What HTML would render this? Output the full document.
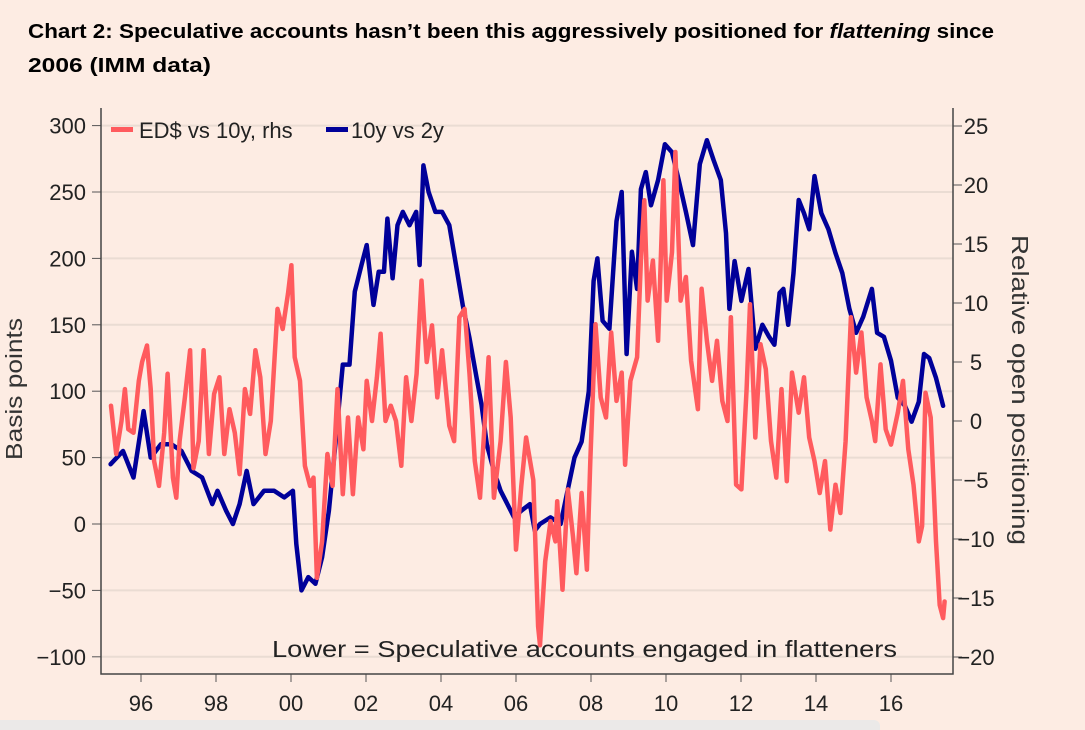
<!DOCTYPE html>
<html><head><meta charset="utf-8"><style>
html,body{margin:0;padding:0;background:#fdece3;}
svg{display:block;font-family:"Liberation Sans",sans-serif;}
</style></head><body>
<svg id="chart" width="1085" height="730" viewBox="0 0 1085 730">
<rect x="0" y="0" width="1085" height="730" fill="#fdece3"/>
<text x="28" y="38" font-size="20" font-weight="bold" fill="#000" textLength="966" lengthAdjust="spacingAndGlyphs">Chart 2: Speculative accounts hasn’t been this aggressively positioned for <tspan font-style="italic">flattening</tspan> since</text>
<text x="28" y="72" font-size="20" font-weight="bold" fill="#000" textLength="183" lengthAdjust="spacingAndGlyphs">2006 (IMM data)</text>
<g id="grid"></g>
<g id="axes"></g>
<g id="series"></g>
<text x="272" y="657" font-size="23" fill="#222" textLength="625" lengthAdjust="spacingAndGlyphs">Lower = Speculative accounts engaged in flatteners</text>
<text transform="translate(22,389) rotate(-90)" text-anchor="middle" font-size="23" fill="#333" textLength="142" lengthAdjust="spacingAndGlyphs">Basis points</text>
<text transform="translate(1012,390) rotate(90)" text-anchor="middle" font-size="23" fill="#333" textLength="310" lengthAdjust="spacingAndGlyphs">Relative open positioning</text>
<g>
<rect x="111" y="127" width="22" height="5" fill="#ff5b5e"/>
<text x="139" y="138" font-size="22" fill="#222">ED$ vs 10y, rhs</text>
<rect x="326" y="127" width="22" height="5" fill="#000099"/>
<text x="351" y="138" font-size="22" fill="#222">10y vs 2y</text>
</g>
<rect x="-10" y="720" width="890" height="20" rx="6" fill="#ebe9e8"/>
</svg>
<script>
const leftTicks=[300,250,200,150,100,50,0,-50,-100];
const rightTicks=[25,20,15,10,5,0,-5,-10,-15,-20];
const xTicks=[1996,1998,2000,2002,2004,2006,2008,2010,2012,2014,2016];
const xTickLabels=["96","98","00","02","04","06","08","10","12","14","16"];
const blueDates=[1995.19,1995.52,1995.80,1996.07,1996.26,1996.53,1996.81,1997.08,1997.35,1997.63,1997.90,1998.04,1998.27,1998.45,1998.63,1998.82,1999.00,1999.28,1999.55,1999.82,2000.05,2000.14,2000.28,2000.46,2000.65,2000.83,2001.01,2001.15,2001.38,2001.56,2001.70,2001.88,2002.02,2002.20,2002.34,2002.48,2002.57,2002.71,2002.84,2002.98,2003.16,2003.34,2003.43,2003.53,2003.67,2003.85,2004.03,2004.22,2004.40,2004.58,2004.76,2004.95,2005.08,2005.22,2005.41,2005.59,2005.77,2005.95,2006.14,2006.37,2006.50,2006.64,2006.92,2007.19,2007.56,2007.75,2007.94,2008.07,2008.17,2008.31,2008.49,2008.68,2008.82,2008.95,2009.09,2009.23,2009.33,2009.46,2009.60,2009.79,2009.97,2010.16,2010.34,2010.53,2010.72,2010.90,2011.09,2011.27,2011.46,2011.60,2011.69,2011.83,2012.01,2012.20,2012.38,2012.57,2012.75,2012.89,2013.03,2013.13,2013.26,2013.40,2013.54,2013.68,2013.82,2013.96,2014.14,2014.33,2014.52,2014.70,2014.89,2015.07,2015.26,2015.49,2015.63,2015.81,2016.00,2016.18,2016.37,2016.55,2016.74,2016.88,2017.02,2017.20,2017.39];
const blueValues=[45,55,35,85,50,60,60,55,40,35,15,25,10,0,15,40,15,25,25,20,25,-15,-50,-40,-45,-25,10,50,120,120,175,195,210,165,190,190,230,185,225,235,225,235,195,270,250,235,235,225,195,165,140,110,90,60,40,25,15,5,10,15,-5,0,5,0,50,62,100,183,200,153,147,228,250,128,205,177,252,265,240,259,286,280,259,235,210,271,289,274,259,219,162,198,168,192,132,150,141,135,174,177,150,189,244,234,222,262,234,222,204,189,162,144,156,177,144,141,123,95,89,77,92,128,125,110,89];
const redDates=[1995.20,1995.34,1995.48,1995.57,1995.66,1995.80,1995.94,1996.03,1996.16,1996.26,1996.35,1996.48,1996.62,1996.71,1996.85,1996.94,1997.03,1997.17,1997.31,1997.40,1997.54,1997.67,1997.81,1997.95,1998.09,1998.22,1998.36,1998.50,1998.63,1998.77,1998.91,1999.05,1999.18,1999.32,1999.46,1999.64,1999.78,1999.92,2000.01,2000.10,2000.24,2000.37,2000.51,2000.60,2000.69,2000.83,2000.97,2001.11,2001.24,2001.38,2001.52,2001.65,2001.79,2001.93,2002.02,2002.16,2002.29,2002.39,2002.52,2002.66,2002.80,2002.94,2003.07,2003.21,2003.35,2003.48,2003.62,2003.76,2003.90,2004.03,2004.22,2004.35,2004.49,2004.63,2004.76,2004.90,2005.04,2005.18,2005.27,2005.41,2005.59,2005.73,2005.86,2006.00,2006.14,2006.27,2006.46,2006.59,2006.64,2006.78,2006.92,2007.05,2007.10,2007.24,2007.38,2007.52,2007.61,2007.75,2007.89,2007.98,2008.12,2008.26,2008.40,2008.54,2008.68,2008.82,2008.91,2009.05,2009.23,2009.33,2009.42,2009.51,2009.65,2009.79,2009.93,2010.02,2010.16,2010.25,2010.39,2010.53,2010.67,2010.85,2010.95,2011.09,2011.23,2011.36,2011.50,2011.64,2011.73,2011.87,2012.01,2012.15,2012.24,2012.38,2012.52,2012.66,2012.80,2012.94,2013.08,2013.22,2013.36,2013.54,2013.68,2013.82,2013.96,2014.10,2014.24,2014.38,2014.52,2014.65,2014.79,2014.93,2015.07,2015.21,2015.35,2015.49,2015.58,2015.72,2015.86,2016.00,2016.18,2016.32,2016.46,2016.60,2016.74,2016.83,2016.92,2017.06,2017.20,2017.30,2017.39,2017.43];
const redValues=[1.3,-2.8,0,2.7,-0.7,-1,3.4,5,6.4,2.7,-3.4,-5.5,-1,4,-4.8,-6.5,-1.7,2,6,-4,-1.7,6,-2.8,2.3,3.7,-2.8,1,-1,-4.5,2.7,0.6,6,3.7,-2.8,0,9.5,7.8,10.8,13.2,5.4,3.4,-3.8,-5.5,-4.8,-13.3,-10.2,-2.8,-5.5,2.7,-6.2,0.3,-6.2,0.3,-2.4,3.4,0,3.7,7.4,0,1.3,0,-3.8,3.7,0,4,11.9,5,8.1,2,6,-0.4,-1.7,8.8,9.5,4,-3.4,-6.5,0.6,5.4,-6.5,-1.7,5,0.3,-10.9,-5.5,-1.4,-5,-17.4,-19,-11.9,-8.5,-10.2,-6.8,-14.3,-5.8,-9.8,-12.9,-6.1,-12.6,-3.4,8.2,2,0.3,7.5,1.7,4.1,-3.7,3.4,5.4,13.6,18.7,10.2,13.6,6.8,20.4,10.2,14.3,22.8,10.2,12.2,5.1,1,11.2,6.8,3.4,6.8,1.7,0,8.8,-5.4,-5.8,2.7,9.9,-1.4,6.5,4.4,-1.7,-4.8,2.7,-5.1,4.1,0.7,3.7,-1.4,-3.4,-6.1,-3.4,-9.2,-5.4,-7.8,-1.7,8.8,4.1,7.5,2,0,-1.7,4.8,-0.7,-2,0.7,3.4,-2.4,-5.4,-10.2,-8.9,2.4,0.3,-10.2,-15.6,-16.7,-15.3];

const NS='http://www.w3.org/2000/svg';
const PL=101,PR=953,PT=108,PB=674;
function xScale(t){return 141+(t-1996)*37.5;}
function yLeft(v){return 524-v*1.328;}
function yRight(v){return 421-v*11.8;}
const grid=document.getElementById('grid'),axes=document.getElementById('axes'),series=document.getElementById('series');
function mk(tag,attrs,parent){const e=document.createElementNS(NS,tag);for(const k in attrs)e.setAttribute(k,attrs[k]);parent.appendChild(e);return e;}
leftTicks.forEach(v=>{
  const y=yLeft(v);
  const g=mk('line',{x1:PL,x2:PR,y1:y,y2:y,stroke:'#eadcd3','stroke-width':2},grid);
  
  
  const t=mk('line',{x1:PL-9,x2:PL,y1:y,y2:y,stroke:'#555','stroke-width':1},axes);
  
  
  const l=mk('text',{x:86,y:y+8,'text-anchor':'end','font-size':22,fill:'#222'},axes);
  l.textContent=String(v).replace('-','\u2212');
  
  
});
rightTicks.forEach(v=>{
  const y=yRight(v);
  const t=mk('line',{x1:PR,x2:PR+9,y1:y,y2:y,stroke:'#555','stroke-width':1},axes);
  
  
  const l=mk('text',{x:976,y:y+8,'text-anchor':'middle','font-size':22,fill:'#222'},axes);
  l.textContent=String(v).replace('-','\u2212');
  
  
});
xTicks.forEach((v,i)=>{
  const x=xScale(v);
  const t=mk('line',{x1:x,x2:x,y1:PB,y2:PB+8,stroke:'#555','stroke-width':1},axes);
  
  
  const l=mk('text',{x:x,y:711,'text-anchor':'middle','font-size':22,fill:'#222'},axes);
  l.textContent=xTickLabels[i];
  
  
});
const ax=mk('path',{d:`M${PL},${PT}V${PB}H${PR}V${PT}`,fill:'none',stroke:'#444','stroke-width':1.5},axes);


function line(dates,vals,ys,color,name){
  const d=dates.map((t,i)=>(i?'L':'M')+xScale(t).toFixed(1)+','+ys(vals[i]).toFixed(1)).join('');
  const p=mk('path',{d:d,fill:'none',stroke:color,'stroke-width':4.5,'stroke-linejoin':'round','stroke-linecap':'round'},series);
  
  
}
line(blueDates,blueValues,yLeft,'#000099','line-10y-vs-2y');
line(redDates,redValues,yRight,'#ff5b5e','line-ed-vs-10y');
</script>
</body></html>
